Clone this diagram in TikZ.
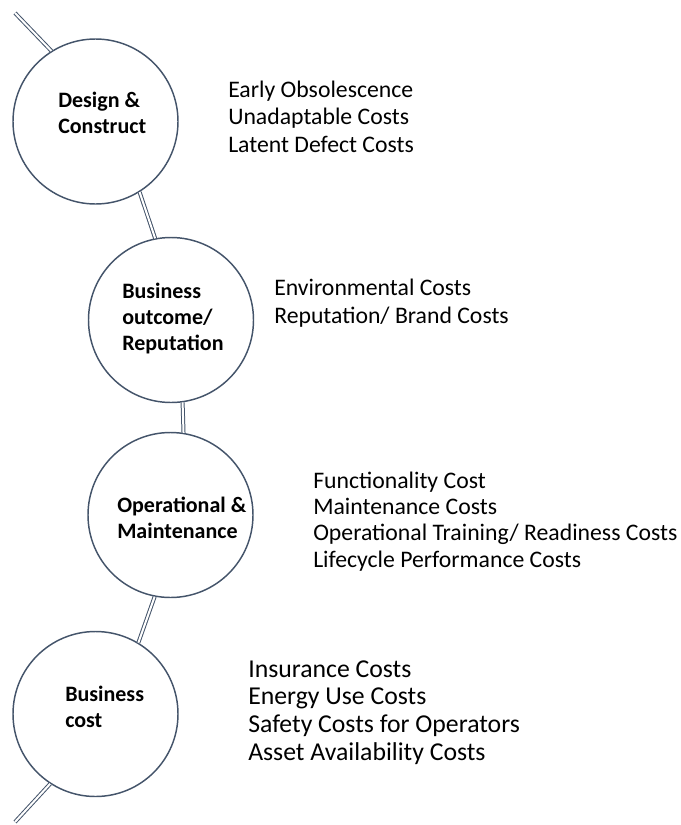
\documentclass[tikz,border=0pt]{standalone}
\usepackage{fontspec}
\setmainfont{Carlito}
\usetikzlibrary{positioning}
\definecolor{slate}{RGB}{68,84,106}

\begin{document}
\begin{tikzpicture}[x=0.75pt,y=-0.75pt,
  phase/.style={draw=slate,line width=1.1pt,circle,fill=white,
                minimum size=123.75pt,inner sep=0pt},
  phasetxt/.style={anchor=base west,inner sep=0pt,align=left,
                   font=\fontsize{16.5}{19.5}\selectfont\bfseries},
  costs/.style={anchor=base west,inner sep=0pt,align=left,
                font=\fontsize{17.8}{20.5}\selectfont},
  link/.style={draw=slate,line width=0.75pt,double=white,double distance=1.5pt}
]
\useasboundingbox (0,0) rectangle (681,825);
% lifecycle circles, top to bottom
\node[phase] (design) at (95.5,121.5) {};
\node[phase] (outcome) at (171,320) {};
\node[phase] (operate) at (170.5,515) {};
\node[phase] (buscost) at (95.5,714) {};
% circle labels (anchored at the last line)
\node[phasetxt] (designtxt) at (58,133) {Design \&\\Construct};
\node[phasetxt] (outcometxt) at (122,350) {Business\\outcome/\\Reputation};
\node[phasetxt] (operatetxt) at (117,538) {Operational \&\\Maintenance};
\node[phasetxt] (buscosttxt) at (65,727) {Business\\cost};
% cost lists on the right
\node[costs] (designcosts) at (228,152)
  {Early Obsolescence\\Unadaptable Costs\\Latent Defect Costs};
\node[costs,font=\fontsize{17.8}{21}\selectfont] (outcomecosts) at (274,323)
  {Environmental Costs\\Reputation/ Brand Costs};
\node[costs,font=\fontsize{17.8}{19.75}\selectfont] (operatecosts) at (313,567)
  {Functionality Cost\\Maintenance Costs\\Operational Training/ Readiness Costs\\Lifecycle Performance Costs};
\node[costs,font=\fontsize{19.3}{20.75}\selectfont] (buscostcosts) at (248,760)
  {Insurance Costs\\Energy Use Costs\\Safety Costs for Operators\\Asset Availability Costs};
% double-line thread through the circles
\coordinate (topend) at (15,13);
\coordinate (botend) at (15,822);
\draw[link] (topend) -- (design.122);
\draw[link] (design.302) -- (outcome.101);
\draw[link] (outcome.278) -- (operate.81);
\draw[link] (operate.259) -- (buscost.59);
\draw[link] (buscost.237) -- (botend);
\end{tikzpicture}
\end{document}
